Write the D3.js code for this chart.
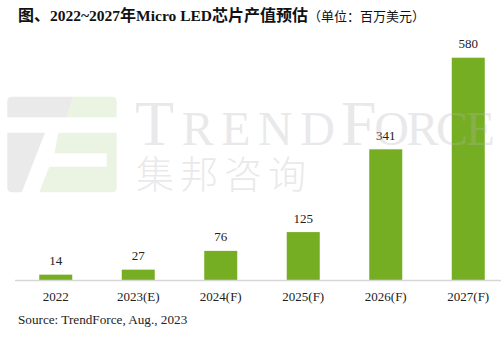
<!DOCTYPE html>
<html>
<head>
<meta charset="utf-8">
<script src="https://cdn.jsdelivr.net/npm/d3@7"></script>
<style>
html,body{margin:0;padding:0;background:#fff;}
svg{display:block;}
</style>
</head>
<body>
<div id="chart"></div>
<script>
const categories = ["2022","2023(E)","2024(F)","2025(F)","2026(F)","2027(F)"];
const values = [14,27,76,125,341,580];
const titleSegments = [
  {t: "图、", cjk: true, bold: true},
  {t: "2022~2027", cjk: false, bold: true},
  {t: "年", cjk: true, bold: true},
  {t: "Micro LED", cjk: false, bold: true},
  {t: "芯片产值预估", cjk: true, bold: true},
  {t: "（单位：百万美元）", cjk: true, bold: false}
];
const sourceText = "Source: TrendForce, Aug., 2023";

const W = 501, H = 342;
const svg = d3.select("#chart").append("svg").attr("width", W).attr("height", H);

const x = d3.scaleBand().domain(categories).range([14.5, 509.5]).paddingInner(0.6).paddingOuter(0.3);
const y = d3.scaleLinear().domain([0, 580]).range([280, 57.7]);

// title
const title = svg.append("text").attr("x", 18).attr("y", 21).attr("fill", "#111");
title.selectAll("tspan").data(titleSegments).join("tspan")
  .attr("font-family", d => d.cjk ? "'Noto Sans CJK SC',sans-serif" : "'Liberation Serif',serif")
  .attr("font-weight", d => d.bold ? "bold" : "normal")
  .attr("font-size", d => d.bold ? (d.cjk ? 16 : 15.5) : 13)
  .text(d => d.t);

// bars
svg.append("g").selectAll("rect").data(values).join("rect")
  .attr("x", (d, i) => x(categories[i]))
  .attr("width", x.bandwidth())
  .attr("y", d => y(d))
  .attr("height", d => y(0) - y(d))
  .attr("fill", "#76ae23");

// value labels
svg.append("g").selectAll("text").data(values).join("text")
  .attr("x", (d, i) => x(categories[i]) + x.bandwidth() / 2)
  .attr("y", d => y(d) - 9.5)
  .attr("text-anchor", "middle")
  .attr("font-family", "'Liberation Serif',serif")
  .attr("font-size", 13).attr("fill", "#222")
  .text(d => d);

// axis
const ax = svg.append("g").attr("transform", `translate(0,${y(0)})`)
  .call(d3.axisBottom(x).tickSize(0).tickSizeOuter(0).tickPadding(12));
ax.select(".domain").attr("stroke", "#d6d6d6").attr("stroke-width", 1.5);
ax.selectAll("text").attr("font-family", "'Liberation Serif',serif").attr("font-size", 13).attr("fill", "#222");

// source
svg.append("text").attr("x", 18).attr("y", 324)
  .attr("font-family", "'Liberation Serif',serif").attr("font-size", 13.2).attr("fill", "#222")
  .text(sourceText);

// watermark (on top, translucent)
const wm = svg.append("g").attr("pointer-events", "none");
const gray = "#b4b4b8", green = "#c6dcae", op = 0.28, gop = 0.35;
wm.append("path").attr("d", "M12,96.7 H72.7 L66.7,117.3 H7.3 V101.4 Q7.3,96.7 12,96.7 Z").attr("fill", gray).attr("opacity", op);
wm.append("path").attr("d", "M72.7,96.7 H112 Q116.7,96.7 116.7,101.4 V117.3 H66.7 Z").attr("fill", green).attr("opacity", gop);
wm.append("path").attr("d", "M7.3,132.7 H45 L21.7,192.3 H12 Q7.3,192.3 7.3,187.6 Z").attr("fill", gray).attr("opacity", op);
wm.append("path").attr("d", "M58.3,132.7 H116.7 V187.6 Q116.7,192.3 112,192.3 H39.3 L49.3,166.7 H106.7 V153.3 H54.5 Z").attr("fill", green).attr("opacity", gop);

const wt1 = wm.append("text").attr("x", 135).attr("y", 145)
  .attr("font-family", "'Liberation Serif',serif").attr("fill", gray).attr("opacity", op)
  .attr("textLength", 200).attr("lengthAdjust", "spacing");
wt1.append("tspan").attr("font-size", 64).text("T");
wt1.append("tspan").attr("font-size", 48).text("REND");
const wt2 = wm.append("text").attr("x", 341).attr("y", 145)
  .attr("font-family", "'Liberation Serif',serif").attr("fill", gray).attr("opacity", op)
  .attr("textLength", 154).attr("lengthAdjust", "spacing");
wt2.append("tspan").attr("font-size", 64).text("F");
wt2.append("tspan").attr("font-size", 48).text("ORCE");

wm.append("text").attr("x", 136).attr("y", 188)
  .attr("font-family", "'Noto Sans CJK SC',sans-serif").attr("font-weight", 300)
  .attr("font-size", 38).attr("letter-spacing", 6).attr("fill", gray).attr("opacity", op)
  .text("集邦咨询");
</script>
</body>
</html>
